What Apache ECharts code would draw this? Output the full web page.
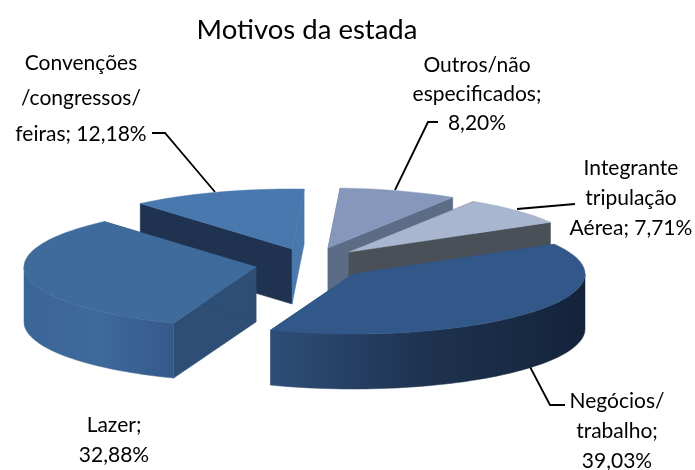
<!DOCTYPE html>
<html>
<head>
<meta charset="utf-8">
<title>Motivos da estada</title>
<script src="https://cdn.jsdelivr.net/npm/echarts@6/dist/echarts.min.js"></script>
<style>
html, body { margin: 0; padding: 0; background: #fff; }
#chart { width: 695px; height: 470px; }
</style>
</head>
<body>
<div id="chart"></div>
<script>
// clockwise from the top of the pie
var categories = ['Outros/não\nespecificados', 'Integrante\ntripulação\nAérea', 'Negócios/\ntrabalho', 'Lazer', 'Convenções\n/congressos/\nfeiras'];
var values = [8.20, 7.71, 39.03, 32.88, 12.18];
var separators = [';\n', '; ', ';\n', ';\n', '; '];

// painter order, back slices first
var drawOrder = [0, 1, 4, 3, 2];

var START_ANGLE = 3, RX = 232, RY = 60, DEPTH = 55;
var FONT = 'Lato';

// exploded position of every slice (tip of the wedge)
var tips = [[328, 248], [349, 252], [353, 274], [256, 267], [292, 249]];
var topColors = ['#8598bb', '#a8b6cf', '#32588a', '#3f6b9c', '#4878ae'];
var startFaceColors = ['#5d6c86', '#4a5058', '#2c4c74', '#2f4e75', '#1f3350'];
var endFaceColors = ['#5d6c86', '#4a5058', '#2c4c74', '#2f4e75', '#4a78ad'];
var rimColors = [
    ['#5d6c86', '#5d6c86'],
    ['#4a5058', '#4a5058'],
    ['#2e4e78', '#1e324f', '#14233a'],
    ['#3b6596', '#3e6a9b', '#35598a'],
    ['#1f3350', '#1f3350']
];

var labelBoxes = [
    { x: 477, y: 65, lh: 29 },
    { x: 631, y: 168, lh: 30 },
    { x: 617, y: 401, lh: 30 },
    { x: 114, y: 425, lh: 30 },
    { x: 81, y: 63, lh: 35.5 }
];
var leaderLines = [
    [[438, 122], [428, 122], [395, 190]],
    [[575, 204], [517, 209]],
    [[528, 363], [550, 405], [565, 405]],
    null,
    [[152, 133], [165, 133], [215, 192]]
];

function sliceAngles(i) {
    var total = values.reduce(function (a, b) { return a + b; }, 0);
    var before = values.slice(0, i).reduce(function (a, b) { return a + b; }, 0);
    return [START_ANGLE + before / total * 360, START_ANGLE + (before + values[i]) / total * 360];
}

function rimPoint(tip, deg, drop) {
    var r = deg * Math.PI / 180;
    return [tip[0] + RX * Math.sin(r), tip[1] - RY * Math.cos(r) + (drop || 0)];
}

function arcPoints(tip, a0, a1, drop) {
    var pts = [];
    var n = Math.ceil((a1 - a0) / 2);
    for (var k = 0; k <= n; k++) {
        pts.push(rimPoint(tip, a0 + (a1 - a0) * k / n, drop));
    }
    return pts;
}

function face(points, fill) {
    return { type: 'polygon', shape: { points: points }, style: { fill: fill, stroke: fill, lineWidth: 0.5 } };
}

function renderSlice(params, api) {
    var i = api.value(0);
    var tip = tips[i];
    var ang = sliceAngles(i);
    var under = [tip[0], tip[1] + DEPTH];
    var a = rimPoint(tip, ang[0]), b = rimPoint(tip, ang[1]);
    var children = [
        face([tip, a, [a[0], a[1] + DEPTH], under], startFaceColors[i]),
        face([tip, b, [b[0], b[1] + DEPTH], under], endFaceColors[i])
    ];
    // only the front half of the rim can be seen
    var frontFrom = Math.max(ang[0], 90), frontTo = Math.min(ang[1], 270);
    if (frontFrom < frontTo) {
        var stops = rimColors[i].map(function (c, k, arr) {
            return { offset: k / (arr.length - 1), color: c };
        });
        children.push(face(
            arcPoints(tip, frontFrom, frontTo).concat(arcPoints(tip, frontFrom, frontTo, DEPTH).reverse()),
            new echarts.graphic.LinearGradient(0, 0, 1, 0, stops)
        ));
    }
    children.push(face([tip].concat(arcPoints(tip, ang[0], ang[1])), topColors[i]));
    return { type: 'group', children: children };
}

var graphics = [];
categories.forEach(function (name, i) {
    var text = name + separators[i] + values[i].toFixed(2).replace('.', ',') + '%';
    var box = labelBoxes[i];
    graphics.push({
        type: 'text',
        x: box.x,
        y: box.y - box.lh / 2,
        style: { text: text, font: '21px ' + FONT, fill: '#000', align: 'center', verticalAlign: 'top', lineHeight: box.lh }
    });
    if (leaderLines[i]) {
        graphics.push({
            type: 'polyline',
            shape: { points: leaderLines[i] },
            style: { stroke: '#000', lineWidth: 1.8, fill: null }
        });
    }
});

var chart = echarts.init(document.getElementById('chart'), null, { renderer: 'canvas' });
chart.setOption({
    animation: false,
    title: {
        text: 'Motivos da estada',
        left: 302,
        top: 11,
        textAlign: 'center',
        textStyle: { fontFamily: FONT, fontSize: 27.5, fontWeight: 'normal', color: '#000' }
    },
    series: [{
        type: 'custom',
        coordinateSystem: 'none',
        silent: true,
        renderItem: renderSlice,
        data: drawOrder.map(function (i) { return [i, values[i]]; })
    }],
    graphic: graphics
});
</script>
</body>
</html>
